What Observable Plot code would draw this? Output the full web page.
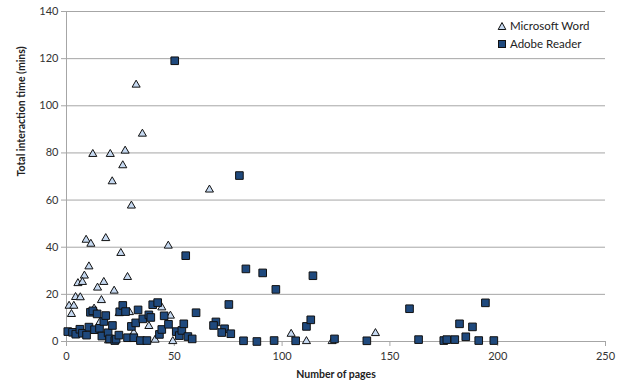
<!DOCTYPE html>
<html>
<head>
<meta charset="utf-8">
<script src="https://cdn.jsdelivr.net/npm/d3@7"></script>
<script src="https://cdn.jsdelivr.net/npm/@observablehq/plot@0.6"></script>
<style>
  html, body { margin: 0; padding: 0; background: #fff; }
  #wrap { position: relative; width: 625px; height: 389px; font-family: Lato, "Open Sans", sans-serif; }
  #legend { position: absolute; left: 497px; top: 17px; font-size: 11.5px; color: #222; line-height: 18px; }
  #legend div { display: flex; align-items: center; gap: 3px; white-space: nowrap; }
</style>
</head>
<body>
<div id="wrap"><div id="legend"></div></div>
<script>
const seriesNames = ["Microsoft Word", "Adobe Reader"];
const wordPages = [32.3,35.2,12.2,20.3,27.2,26.1,21.2,30.1,9.1,11.3,18.2,47.2,25.2,10.4,8.3,28.3,5.3,7.4,17.3,14.4,22.1,4.2,6.4,16.2,1.2,3.4,2.3,12.8,15.5,24.4,29.2,44.2,48.2,38.2,31.2,41.1,49.3,19.5,66.3,104.2,111.3,123.2,143.3];
const wordTime  = [108.9,88.1,79.5,79.5,80.9,74.7,67.9,57.6,43.1,41.4,43.8,40.6,37.5,31.8,27.9,27.3,24.7,25.2,25.2,22.8,21.5,18.8,18.7,17.5,15.1,15.1,11.6,13.9,8.2,12.0,12.4,14.4,10.9,6.5,3.7,0.7,0.1,0.4,64.4,3.2,0.1,0.1,3.5];
const readerPages = [50.2,55.3,60.1,0.6,2.8,4.3,6.2,7.4,9.3,10.4,11.1,12.2,13.0,14.2,15.3,16.4,17.3,18.2,19.3,20.0,21.3,22.4,23.0,24.3,24.7,26.1,27.4,28.3,30.1,31.2,32.1,33.2,34.3,35.4,37.3,38.2,39.1,40.0,42.3,43.1,44.2,45.3,47.3,50.9,52.3,53.5,54.4,56.3,58.3,80.2,83.2,91.0,97.1,114.3,75.3,69.3,68.2,73.3,72.0,76.2,82.1,88.3,96.3,106.3,111.3,113.3,124.3,139.3,159.1,163.3,175.0,176.4,180.1,182.3,185.2,188.3,191.2,194.3,198.2];
const readerTime  = [119.1,36.4,12.2,4.2,3.9,3.1,5.2,3.5,2.7,6.1,12.4,13.0,5.0,11.7,5.6,2.3,8.5,11.0,3.7,1.1,6.8,0.4,1.0,2.7,12.6,15.3,12.7,1.6,6.4,1.6,7.9,13.4,0.4,9.6,0.4,11.3,10.2,15.6,16.5,3.0,5.1,10.9,7.3,4.2,2.5,4.7,7.5,2.1,1.1,70.4,30.8,29.1,22.1,27.9,15.7,8.3,6.8,5.4,3.8,3.3,0.3,0.0,0.4,0.3,6.4,9.2,1.1,0.3,13.9,0.8,0.4,0.8,0.8,7.5,2.0,6.2,0.4,16.4,0.4];
const xTicks = [0,50,100,150,200,250];
const yTicks = [0,20,40,60,80,100,120,140];
const xTitle = "Number of pages";
const yTitle = "Total interaction time (mins)";

const word = wordPages.map((p, i) => ({pages: p, time: wordTime[i]}));
const reader = readerPages.map((p, i) => ({pages: p, time: readerTime[i]}));

const wordFill = "#c6d9f1", readerFill = "#1f497d";

const plot = Plot.plot({
  width: 625, height: 389,
  marginLeft: 66, marginRight: 20, marginTop: 11, marginBottom: 48,
  style: {fontFamily: "Lato, 'Open Sans', sans-serif", fontSize: "11px", color: "#333", background: "#fff"},
  x: {domain: [0, 250], ticks: xTicks},
  y: {domain: [0, 140], ticks: yTicks},
  marks: [
    Plot.gridY(yTicks, {stroke: "#a6a6a6", strokeOpacity: 1, strokeWidth: 1}),
    Plot.ruleX([0], {stroke: "#a6a6a6"}),
    Plot.ruleY([0], {stroke: "#a6a6a6"}),
    Plot.axisY(yTicks, {tickSize: 5, tickPadding: 3, stroke: "#a6a6a6", label: null, fontSize: 11, fill: "#333"}),
    Plot.axisX(xTicks, {tickSize: 5, tickPadding: 6, stroke: "#a6a6a6", label: null, fontSize: 11, fill: "#333"}),
    Plot.text([xTitle], {frameAnchor: "bottom", dy: 36, text: d => d, fontWeight: "bold", fontSize: 10.5, fill: "#222"}),
    Plot.text([yTitle], {frameAnchor: "left", dx: -45, rotate: -90, text: d => d, fontWeight: "bold", fontSize: 10.5, fill: "#222"}),
    Plot.dot(word, {x: "pages", y: "time", symbol: "triangle", r: 3.0, fill: wordFill, stroke: "#111", strokeWidth: 1}),
    Plot.dot(reader, {x: "pages", y: "time", symbol: "square", r: 4.3, fill: readerFill, stroke: "#111", strokeWidth: 1})
  ]
});
const wrap = document.getElementById("wrap");
wrap.insertBefore(plot, wrap.firstChild);

const legend = document.getElementById("legend");
legend.innerHTML = `
<div><svg width="10" height="10"><path d="M5,1.5 L8.8,8.5 L1.2,8.5 Z" fill="${wordFill}" stroke="#111" stroke-width="1"/></svg><span>${seriesNames[0]}</span></div>
<div><svg width="10" height="10"><rect x="1.5" y="1.5" width="7" height="7" fill="${readerFill}" stroke="#111" stroke-width="1"/></svg><span>${seriesNames[1]}</span></div>`;
</script>
</body>
</html>
